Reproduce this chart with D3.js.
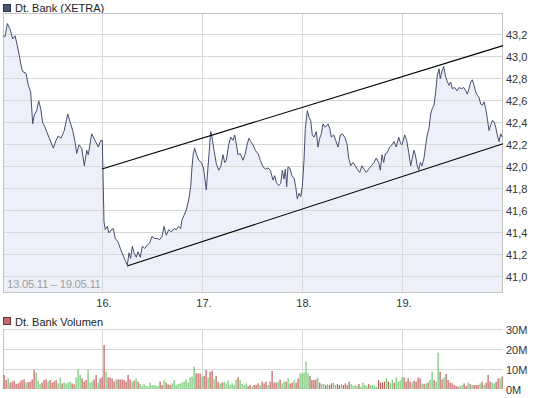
<!DOCTYPE html>
<html><head><meta charset="utf-8">
<script src="https://cdn.jsdelivr.net/npm/d3@7"></script>
<style>
html,body{margin:0;padding:0;background:#fff;}
svg{display:block;font-family:"Liberation Sans",Arial,sans-serif;}
</style></head>
<body><svg id="c" width="545" height="398"></svg>
<script>
// ---- data ----
const title = "Dt. Bank (XETRA)";
const volTitle = "Dt. Bank Volumen";
const rangeLabel = "13.05.11 \u2013 19.05.11";
const dayLabels = ["16.", "17.", "18.", "19."];   // at day boundaries 1..4
const priceTicks = [41.0, 41.2, 41.4, 41.6, 41.8, 42.0, 42.2, 42.4, 42.6, 42.8, 43.0, 43.2];
const volTicks = [0, 10, 20, 30];

// time in trading days (0 = open 13.05.), price in EUR
const times = [
 0.003,0.02,0.043,0.07,0.097,0.12,0.143,0.163,0.187,0.203,0.23,0.253,0.277,0.297,0.313,0.337,0.357,0.377,0.397,0.42,0.437,0.463,0.503,0.53,0.553,0.58,0.613,0.647,0.67,0.697,0.72,0.737,0.76,0.787,0.813,0.837,0.853,0.887,0.92,0.953,0.977,0.993,
 1.01,1.023,1.043,1.06,1.083,1.103,1.123,1.15,1.177,1.2,1.223,1.243,1.26,1.277,1.293,1.31,1.333,1.35,1.373,1.393,1.417,1.443,1.467,1.49,1.517,1.543,1.567,1.59,1.61,1.633,1.657,1.683,1.71,1.733,1.757,1.777,1.79,1.81,1.833,1.857,1.877,1.89,1.903,1.917,1.933,1.957,1.983,
 2.005,2.033,2.05,2.067,2.077,2.09,2.11,2.133,2.157,2.177,2.2,2.217,2.233,2.257,2.277,2.3,2.317,2.333,2.35,2.373,2.4,2.423,2.443,2.46,2.477,2.5,2.523,2.55,2.573,2.6,2.627,2.65,2.673,2.7,2.717,2.733,2.757,2.777,2.793,2.81,2.823,2.837,2.85,2.867,2.89,2.91,2.927,2.943,2.96,2.977,2.993,
 3.01,3.023,3.043,3.06,3.077,3.093,3.11,3.133,3.15,3.167,3.183,3.2,3.223,3.25,3.267,3.283,3.307,3.327,3.35,3.373,3.393,3.417,3.44,3.457,3.477,3.5,3.523,3.543,3.567,3.59,3.61,3.633,3.657,3.683,3.71,3.733,3.757,3.773,3.79,3.807,3.823,3.843,3.867,3.89,3.91,3.933,3.957,3.977,3.99,
 4.017,4.037,4.057,4.077,4.093,4.11,4.123,4.143,4.157,4.173,4.19,4.21,4.227,4.243,4.26,4.277,4.293,4.31,4.327,4.343,4.36,4.373,4.39,4.407,4.423,4.44,4.46,4.477,4.493,4.517,4.54,4.56,4.583,4.607,4.627,4.643,4.66,4.677,4.693,4.71,4.727,4.743,4.76,4.777,4.793,4.81,4.827,4.843,4.86,4.877,4.893,4.91,4.927,4.943,4.96,4.977,4.993
];
const prices = [
 43.18,43.17,43.29,43.24,43.15,43.18,43.09,43.00,42.88,42.85,42.84,42.73,42.67,42.38,42.46,42.50,42.59,42.52,42.39,42.35,42.31,42.25,42.16,42.23,42.27,42.25,42.32,42.47,42.40,42.32,42.22,42.11,42.19,42.16,42.00,42.14,42.10,42.29,42.23,42.17,42.23,42.23,
 41.49,41.42,41.45,41.39,41.42,41.43,41.34,41.31,41.24,41.19,41.14,41.10,41.21,41.16,41.27,41.21,41.17,41.22,41.17,41.27,41.25,41.28,41.30,41.36,41.34,41.34,41.33,41.36,41.45,41.37,41.42,41.40,41.43,41.42,41.45,41.43,41.51,41.55,41.60,41.69,41.81,41.99,42.11,42.16,42.11,42.05,42.03,
 41.98,41.78,41.99,42.19,42.31,42.26,42.14,42.02,41.96,41.99,42.10,42.03,42.05,42.19,42.26,42.23,42.28,42.20,42.10,42.11,42.05,42.11,42.20,42.25,42.22,42.19,42.14,42.11,42.05,41.99,41.97,41.98,41.96,41.87,41.91,41.85,41.82,41.84,41.96,41.88,41.97,41.81,41.99,41.98,41.91,41.89,41.81,41.70,41.75,41.72,41.81,
 42.05,42.34,42.50,42.44,42.41,42.28,42.26,42.31,42.17,42.25,42.29,42.38,42.35,42.38,42.34,42.26,42.28,42.23,42.17,42.28,42.29,42.26,42.20,42.07,42.00,42.03,42.00,41.97,41.94,42.00,41.97,41.94,41.97,42.00,42.03,42.07,42.03,41.96,42.10,42.03,42.11,42.12,42.17,42.19,42.22,42.17,42.26,42.20,42.19,
 42.28,42.23,42.12,42.00,42.07,42.14,42.10,42.00,41.96,42.03,42.00,42.07,42.19,42.28,42.34,42.47,42.52,42.55,42.67,42.82,42.88,42.79,42.86,42.90,42.82,42.77,42.73,42.76,42.70,42.71,42.68,42.71,42.70,42.71,42.68,42.65,42.70,42.76,42.78,42.73,42.67,42.64,42.62,42.56,42.55,42.58,42.52,42.43,42.32,42.37,42.41,42.40,42.35,42.28,42.22,42.29,42.26
];

// trend channel (start/end in time, price)
const upperChannel = [[0.99, 41.97], [5.0, 43.09]];
const lowerChannel = [[1.24, 41.09], [5.0, 42.20]];

// volume per day (millions), 1 = up (green), 0 = down (red)
const volFri = [7,4.5,5.3,3.2,3.7,4.2,2.5,2.8,3.7,4.5,4.8,3.2,3.5,3.7,4.8,9.5,8.2,4.2,2.5,3.2,4.5,4.8,3.7,4.5,3.2,3.7,4.5,2.8,5.8,2.8,3.2,2.8,3.2,3.7,2.8,2.3,5.8,9.8,7,5.3,3.7,4.5,9.5,3.2,3.7,4.8,7,3.2,5.3,5.8];
const upFri  = [0,0,1,0,0,0,0,0,0,0,0,1,0,0,0,0,1,1,1,0,0,0,1,0,0,0,0,1,1,0,1,1,1,1,0,0,1,1,1,0,0,0,1,1,1,0,0,1,0,0];
const volMon = [22,8.7,5.8,5.8,5.3,3.7,4.8,4.8,4.8,4.8,4.5,3.7,7,4.8,3.7,4.2,5.3,3.7,2.5,1.5,2.5,1.5,1.2,3.2,2,2,1.7,1.5,3.7,2,4.5,3.2,2.3,2,2.8,4.5,2,2.5,2.8,3.2,3.7,4.8,3.2,5.8,6.2,11.2,7.8,7.8,7.8,6.2];
const upMon  = [0,1,0,0,0,0,1,0,0,0,0,0,0,0,1,0,1,0,1,1,1,1,1,1,1,1,1,1,0,0,1,0,0,0,1,1,1,1,1,1,1,1,1,1,1,1,0,0,0,1];
const volTue = [6.5,9.5,5.8,8.7,9.2,4.8,6.5,3.7,2.8,3.2,3.7,2.8,4.2,2,2.8,2,4.8,5.8,4.5,2.5,2,2.8,1.5,2,1.2,2,2,2.8,2,3.7,2.8,3.7,2,3.7,9,3.2,3.2,3.7,4.8,2.8,3.7,3.7,5.3,2.8,3.2,4.5,3.2,5.3,7.8,7.8];
const upTue  = [0,0,1,0,0,1,0,0,1,0,1,1,1,1,1,1,1,0,1,1,1,1,0,0,1,0,0,0,1,0,0,0,1,0,0,0,0,1,0,1,1,0,1,0,0,1,0,0,1,1];
const volWed = [8.2,13.7,7.8,6.5,4.5,4.5,4.8,5.8,3.2,2.5,2.5,2,2.5,2,2.8,3.2,2,2.5,2,2.5,2,2.8,2,3.7,2.5,1.5,2,1.5,2.5,1.2,3.2,2,1.5,2.5,2,2,1.5,1.2,4.5,3.2,3.2,3.7,5.3,3.7,2.8,4.5,3.2,5.8,3.7,4.2,5.8];
const upWed  = [1,1,1,0,0,0,0,1,0,1,1,0,1,0,0,1,1,0,0,1,0,0,0,0,1,1,1,1,0,1,1,1,1,0,1,1,1,1,0,0,0,0,1,0,1,1,0,1,1,1,1];
const volThu = [5.8,3.7,5.3,3.7,3.2,4.2,3.7,5.8,5.3,2.8,2.5,2.8,3.2,4.5,8.7,4.5,3.7,18.2,8.7,4.8,5.8,7.5,4.5,3.2,2.8,2,1.5,1.2,1.5,2,2.8,1.5,3.2,2.5,2,2,2,2,2.8,3.7,2,3.2,7,3.7,3.2,2.8,3.7,5.3,5.3,6.2];
const upThu  = [0,0,0,0,1,0,0,0,0,1,0,1,0,1,1,0,1,1,0,0,1,0,0,0,0,0,0,0,1,1,0,0,1,0,1,0,0,0,1,0,1,0,0,0,1,1,0,0,1,0];

const volDays = [volFri, volMon, volTue, volWed, volThu];
const upDays = [upFri, upMon, upTue, upWed, upThu];

// ---- drawing ----
const svg = d3.select("#c");
const L = 3, R = 503;
const mainTop = 13, mainBot = 293;
const volTop = 329, volBot = 389;

const x = d3.scaleLinear().domain([0, 5]).range([L, R]);
const y = d3.scaleLinear().domain([41.0, 43.2]).range([276, 33.5]);
const yv = d3.scaleLinear().domain([0, 30]).range([volBot, volTop]);

const gridCol = "#d8d8d8", borderCol = "#c4c4c4", txtCol = "#333";

// title legend
svg.append("rect").attr("x", 3.5).attr("y", 4.5).attr("width", 7).attr("height", 7)
  .attr("fill", "#4c5479").attr("stroke", "#2d3350");
svg.append("text").attr("x", 15).attr("y", 11.5).attr("font-size", 11).attr("fill", "#222").text(title);

// main plot clip
svg.append("clipPath").attr("id", "mc").append("rect")
  .attr("x", L).attr("y", mainTop).attr("width", R - L).attr("height", mainBot - mainTop);

const pts = times.map((t, i) => [t, prices[i]]);
const area = d3.area().x(d => x(d[0])).y0(mainBot).y1(d => y(d[1]));
const line = d3.line().x(d => x(d[0])).y(d => y(d[1]));

svg.append("path").datum(pts).attr("d", area).attr("fill", "#edf0f9").attr("clip-path", "url(#mc)");

// grid
const g = svg.append("g");
priceTicks.forEach(v => {
  g.append("line").attr("x1", L).attr("x2", R).attr("y1", Math.round(y(v)) + 0.5).attr("y2", Math.round(y(v)) + 0.5)
    .attr("stroke", gridCol);
});
[1, 2, 3, 4].forEach(d => {
  g.append("line").attr("x1", Math.round(x(d)) - 0.5).attr("x2", Math.round(x(d)) - 0.5)
    .attr("y1", mainTop).attr("y2", mainBot).attr("stroke", gridCol);
});
svg.append("rect").attr("x", L + 0.5).attr("y", mainTop + 0.5).attr("width", R - L - 1).attr("height", mainBot - mainTop - 1)
  .attr("fill", "none").attr("stroke", borderCol);

// price line
svg.append("path").datum(pts).attr("d", line).attr("fill", "none")
  .attr("stroke", "#454d70").attr("stroke-width", 1).attr("clip-path", "url(#mc)");

// channel
[upperChannel, lowerChannel].forEach(c => {
  svg.append("line").attr("x1", x(c[0][0])).attr("y1", y(c[0][1]))
    .attr("x2", x(c[1][0])).attr("y2", y(c[1][1]))
    .attr("stroke", "#000").attr("stroke-width", 1.1);
});

// y tick labels
priceTicks.forEach(v => {
  svg.append("text").attr("x", 506).attr("y", y(v) + 5).attr("font-size", 11).attr("fill", txtCol)
    .text(v.toFixed(1).replace(".", ","));
});

// range label
svg.append("text").attr("x", 7).attr("y", 288).attr("font-size", 11.5).attr("fill", "#a0a0a0")
  .attr("textLength", 94).attr("lengthAdjust", "spacing").text(rangeLabel);

// day labels
dayLabels.forEach((lab, i) => {
  svg.append("text").attr("x", x(i + 1) + 1).attr("y", 307).attr("font-size", 11).attr("fill", txtCol)
    .attr("text-anchor", "middle").text(lab);
});

// volume legend
svg.append("rect").attr("x", 3.5).attr("y", 317.5).attr("width", 7).attr("height", 7)
  .attr("fill", "#c46a6a").attr("stroke", "#6b3535");
svg.append("text").attr("x", 15).attr("y", 325.5).attr("font-size", 11).attr("fill", "#222").text(volTitle);

// volume grid
volTicks.forEach(v => {
  if (v > 0) svg.append("line").attr("x1", L).attr("x2", R)
    .attr("y1", Math.round(yv(v)) + 0.5).attr("y2", Math.round(yv(v)) + 0.5).attr("stroke", gridCol);
  svg.append("text").attr("x", 506).attr("y", yv(v) + 5).attr("font-size", 11).attr("fill", txtCol).text(v + "M");
});
[1, 2, 3, 4].forEach(d => {
  svg.append("line").attr("x1", Math.round(x(d)) - 0.5).attr("x2", Math.round(x(d)) - 0.5)
    .attr("y1", volTop).attr("y2", volBot).attr("stroke", gridCol);
});
svg.append("line").attr("x1", L + 0.5).attr("x2", L + 0.5).attr("y1", volTop).attr("y2", volBot).attr("stroke", borderCol);

// volume bars
volDays.forEach((vals, d) => {
  const n = vals.length;
  svg.append("g").selectAll("rect").data(vals).join("rect")
    .attr("x", (v, i) => x(d + (i + 0.5) / n) - 0.5)
    .attr("width", 1.2)
    .attr("y", v => yv(v))
    .attr("height", v => volBot - yv(v))
    .attr("fill", (v, i) => upDays[d][i] ? "#6fc86f" : "#c05e5e");
});
</script>
</body></html>
